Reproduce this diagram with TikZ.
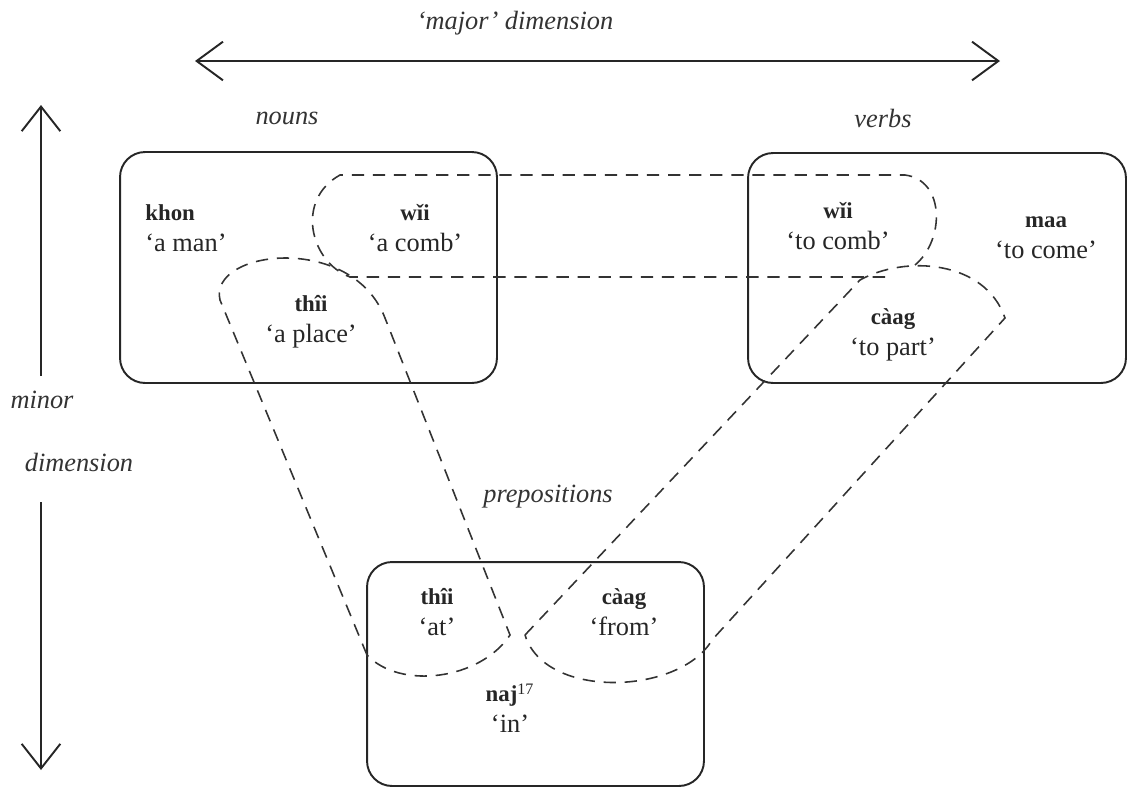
\documentclass[tikz,border=0pt]{standalone}
\usepackage{fontspec}
\setmainfont{Liberation Serif}
\usetikzlibrary{arrows.meta}
\begin{document}
\begin{tikzpicture}[x=0.02cm,y=-0.02cm,
  setbox/.style={draw=black!85, line width=1.1pt, rounded corners=0.5cm, minimum width=#1, inner sep=0pt, outer sep=0pt},
  axis/.style={draw=black!85, line width=1.2pt, {Straight Barb[length=15pt,width=22pt,line width=1.1pt]}-{Straight Barb[length=15pt,width=22pt,line width=1.1pt]}},
  axishalf/.style={draw=black!85, line width=1.1pt, -{Straight Barb[length=14pt,width=22pt,line width=1.1pt]}},
  setline/.style={draw=black!80, line width=0.9pt, dash pattern=on 7pt off 5pt},
  lab/.style={font=\fontsize{15}{18}\selectfont\itshape, text=black!80, inner sep=0pt},
  word/.style={font=\fontsize{15}{17.5}\selectfont, text=black!85, align=center, inner sep=0pt},
]
\useasboundingbox (0,0) rectangle (1129,789);

% axes
\coordinate (majL) at (195,61);
\coordinate (majR) at (1000,61);
\draw[axis, line width=1.6pt] (majL) -- (majR);
\node[lab] (major) at (515,23) {‘major’ dimension};

\coordinate (minT) at (41,376);
\coordinate (minTtip) at (41,105);
\coordinate (minB) at (41,502);
\coordinate (minBtip) at (41,770);
\draw[axishalf] (minT) -- (minTtip);
\draw[axishalf] (minB) -- (minBtip);
\node[lab] (minor) at (42,400) {minor};
\node[lab] (dimension) at (79,462) {dimension};

% boxes
\node[setbox=7.54cm, minimum height=4.62cm] (nounbox) at (308.5,267.5) {};
\node[setbox=7.56cm, minimum height=4.60cm] (verbbox) at (937,268) {};
\node[setbox=6.74cm, minimum height=4.48cm] (prepbox) at (535.5,674) {};

\node[lab] (nounslab) at (287,118) {nouns};
\node[lab] (verbslab) at (883,118) {verbs};
\node[lab] (preplab) at (548,497) {prepositions};

% dashed sets
% wii (comb)
\draw[setline] (885,277) -- (350,277) .. controls (310,262) and (295,200) .. (340,175)
  -- (905,175) .. controls (945,180) and (945,240) .. (915,265);
% thii (place / at)
\draw[setline] (367,655) -- (220,300) .. controls (208,250) and (352,232) .. (385,318)
  -- (510,635) .. controls (480,680) and (400,690) .. (367,655);
% caag (part / from)
\draw[setline] (525,635) -- (860,280) .. controls (905,255) and (985,260) .. (1005,318)
  -- (712,640) .. controls (680,695) and (545,700) .. (525,635);

% words
\node[word, align=left, anchor=west] (khon) at (145,228) {\fontsize{13}{17.5}\selectfont\textbf{khon}\\‘a man’};
\node[word] (wiiN) at (415,228) {\fontsize{13}{17.5}\selectfont\textbf{wǐi}\\‘a comb’};
\node[word] (thiiN) at (311,322) {\fontsize{13}{17.5}\selectfont\textbf{thîi}\\‘a place’};
\node[word] (wiiV) at (838,226) {\fontsize{13}{17.5}\selectfont\textbf{wǐi}\\‘to comb’};
\node[word] (maa) at (1046,238) {\fontsize{13}{17.5}\selectfont\textbf{maa}\\‘to come’};
\node[word] (caagV) at (893,335) {\fontsize{13}{17.5}\selectfont\textbf{càag}\\‘to part’};
\node[word] (thiiP) at (437,612) {\fontsize{13}{17.5}\selectfont\textbf{thîi}\\‘at’};
\node[word] (caagP) at (624,612) {\fontsize{13}{17.5}\selectfont\textbf{càag}\\‘from’};
\node[word] (naj) at (510,708) {\fontsize{13}{17.5}\selectfont\textbf{naj}\textsuperscript{17}\\‘in’};
\end{tikzpicture}
\end{document}
